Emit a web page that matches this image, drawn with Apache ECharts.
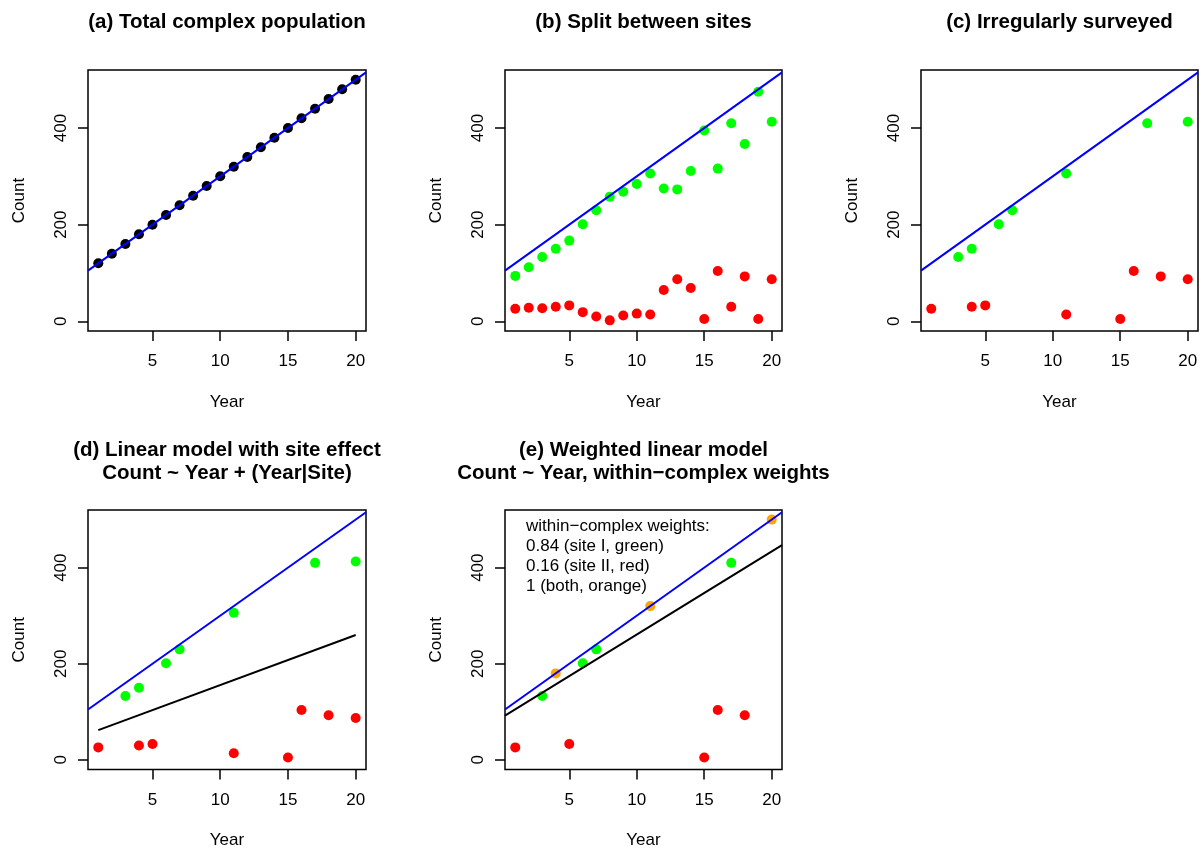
<!DOCTYPE html>
<html>
<head>
<meta charset="utf-8">
<script src="https://cdn.jsdelivr.net/npm/echarts@6/dist/echarts.min.js"></script>
<style>
html,body{margin:0;padding:0;background:#fff;}
#chart{width:1202px;height:850px;}
</style>
</head>
<body>
<div id="chart"></div>
<script>
// ---------- data ----------
var years   = [1,2,3,4,5,6,7,8,9,10,11,12,13,14,15,16,17,18,19,20];
var total   = [120,140,160,180,200,220,240,260,280,300,320,340,360,380,400,420,440,460,480,500];
var siteI   = [94,112,133,150,167,201,230,258,268,284,306,275,273,311,395,316,410,367,475,413];
var siteII  = [26,28,27,30,33,19,10,2,12,16,14,65,87,69,5,104,30,93,5,87];
var surveyedYearsI  = [3,4,6,7,11,17,20];
var surveyedYearsII = [1,4,5,11,15,16,18,20];
// fitted lines (x, y end points)
var fullSpanYears   = [0.24, 20.76];
var trendLine       = [104.8, 515.2];   // Count ~ Year on complex totals
var siteModelYears  = [1, 20];
var siteModelLine   = [62, 260];        // Count ~ Year + (Year|Site)
var weightedLine    = [92, 447];        // weighted linear model
var xTicks = [5, 10, 15, 20];
var yTicks = [0, 200, 400];
var titles = [
  '(a) Total complex population',
  '(b) Split between sites',
  '(c) Irregularly surveyed',
  '(d) Linear model with site effect\nCount ~ Year + (Year|Site)',
  '(e) Weighted linear model\nCount ~ Year, within\u2212complex weights'
];
var weightNotes = [
  'within\u2212complex weights:',
  '0.84 (site I, green)',
  '0.16 (site II, red)',
  '1 (both, orange)'
];

// ---------- helpers ----------
var FONT = "'Liberation Sans', Arial, Helvetica, sans-serif";
function pairs(xs, ys) { return xs.map(function (x, i) { return [x, ys[i]]; }); }
function pick(yrs, vals) { return yrs.map(function (y) { return [y, vals[years.indexOf(y)]]; }); }
var bothYears  = surveyedYearsI.filter(function (y) { return surveyedYearsII.indexOf(y) >= 0; });
var onlyI  = surveyedYearsI.filter(function (y) { return bothYears.indexOf(y) < 0; });
var onlyII = surveyedYearsII.filter(function (y) { return bothYears.indexOf(y) < 0; });

var GREEN = '#00FF00', RED = '#FF0000', BLUE = '#0000FF', ORANGE = '#FFA500', BLACK = '#000000';

var grids = [
  {left: 88,  top: 70,  width: 278, height: 261},
  {left: 505, top: 70,  width: 277, height: 261},
  {left: 921, top: 70,  width: 277, height: 261},
  {left: 88,  top: 510, width: 278, height: 261},
  {left: 505, top: 510, width: 277, height: 261}
];

var option = {
  animation: false,
  backgroundColor: '#ffffff',
  title: grids.map(function (g, i) {
    var twoLine = i >= 3;
    return {
      text: titles[i],
      left: g.left + g.width / 2,
      top: twoLine ? 438.5 : 10.5,
      textAlign: 'center',
      padding: 0,
      textStyle: {fontSize: 20.5, fontWeight: 'bold', fontFamily: FONT, color: '#000', lineHeight: 23.5}
    };
  }),
  grid: grids.map(function (g) {
    return {left: g.left, top: g.top, width: g.width, height: g.height, show: true,
            borderColor: '#000', borderWidth: 1.5, backgroundColor: 'transparent', containLabel: false};
  }),
  xAxis: grids.map(function (g, i) {
    return {
      gridIndex: i, type: 'value', min: 0.24, max: 20.76,
      axisLine: {show: false, onZero: false},
      axisTick: {show: true, length: 10, inside: false, customValues: xTicks, lineStyle: {color: '#000', width: 1.5}},
      axisLabel: {customValues: xTicks, margin: 22, fontSize: 17, fontFamily: FONT, color: '#000'},
      splitLine: {show: false},
      name: 'Year', nameLocation: 'middle', nameGap: 62.5,
      nameTextStyle: {fontSize: 17, fontFamily: FONT, color: '#000'}
    };
  }),
  yAxis: grids.map(function (g, i) {
    return {
      gridIndex: i, type: 'value', min: -20, max: 520,
      axisLine: {show: false, onZero: false},
      axisTick: {show: true, length: 10, inside: false, customValues: yTicks, lineStyle: {color: '#000', width: 1.5}},
      axisLabel: {customValues: yTicks, rotate: 90, margin: 18, fontSize: 17, fontFamily: FONT, color: '#000'},
      splitLine: {show: false},
      name: 'Count', nameLocation: 'middle', nameGap: 60,
      nameTextStyle: {fontSize: 17, fontFamily: FONT, color: '#000'}
    };
  }),
  graphic: [{
    type: 'text', left: 526, top: 516.5, silent: true,
    style: {text: weightNotes.join('\n'), font: '17px ' + FONT, fill: '#000', lineHeight: 20}
  }],
  series: []
};

function pts(idx, data, color) {
  option.series.push({type: 'scatter', xAxisIndex: idx, yAxisIndex: idx, data: data,
    symbol: 'circle', symbolSize: 10, itemStyle: {color: color, opacity: 1}, z: 2, silent: true});
}
function line(idx, data, color) {
  option.series.push({type: 'line', xAxisIndex: idx, yAxisIndex: idx, data: data, clip: true,
    showSymbol: false, symbol: 'none', lineStyle: {color: color, width: 2}, z: 3, silent: true});
}

// (a)
pts(0, pairs(years, total), BLACK);
line(0, pairs(fullSpanYears, trendLine), BLUE);
// (b)
pts(1, pairs(years, siteI), GREEN);
pts(1, pairs(years, siteII), RED);
line(1, pairs(fullSpanYears, trendLine), BLUE);
// (c)
pts(2, pick(surveyedYearsI, siteI), GREEN);
pts(2, pick(surveyedYearsII, siteII), RED);
line(2, pairs(fullSpanYears, trendLine), BLUE);
// (d)
pts(3, pick(surveyedYearsI, siteI), GREEN);
pts(3, pick(surveyedYearsII, siteII), RED);
line(3, pairs(fullSpanYears, trendLine), BLUE);
line(3, pairs(siteModelYears, siteModelLine), BLACK);
// (e)
pts(4, pick(onlyI, siteI), GREEN);
pts(4, pick(onlyII, siteII), RED);
pts(4, pick(bothYears, total), ORANGE);
line(4, pairs(fullSpanYears, trendLine), BLUE);
line(4, pairs(fullSpanYears, weightedLine), BLACK);

var chart = echarts.init(document.getElementById('chart'), null, {renderer: 'canvas'});
chart.setOption(option);
</script>
</body>
</html>
